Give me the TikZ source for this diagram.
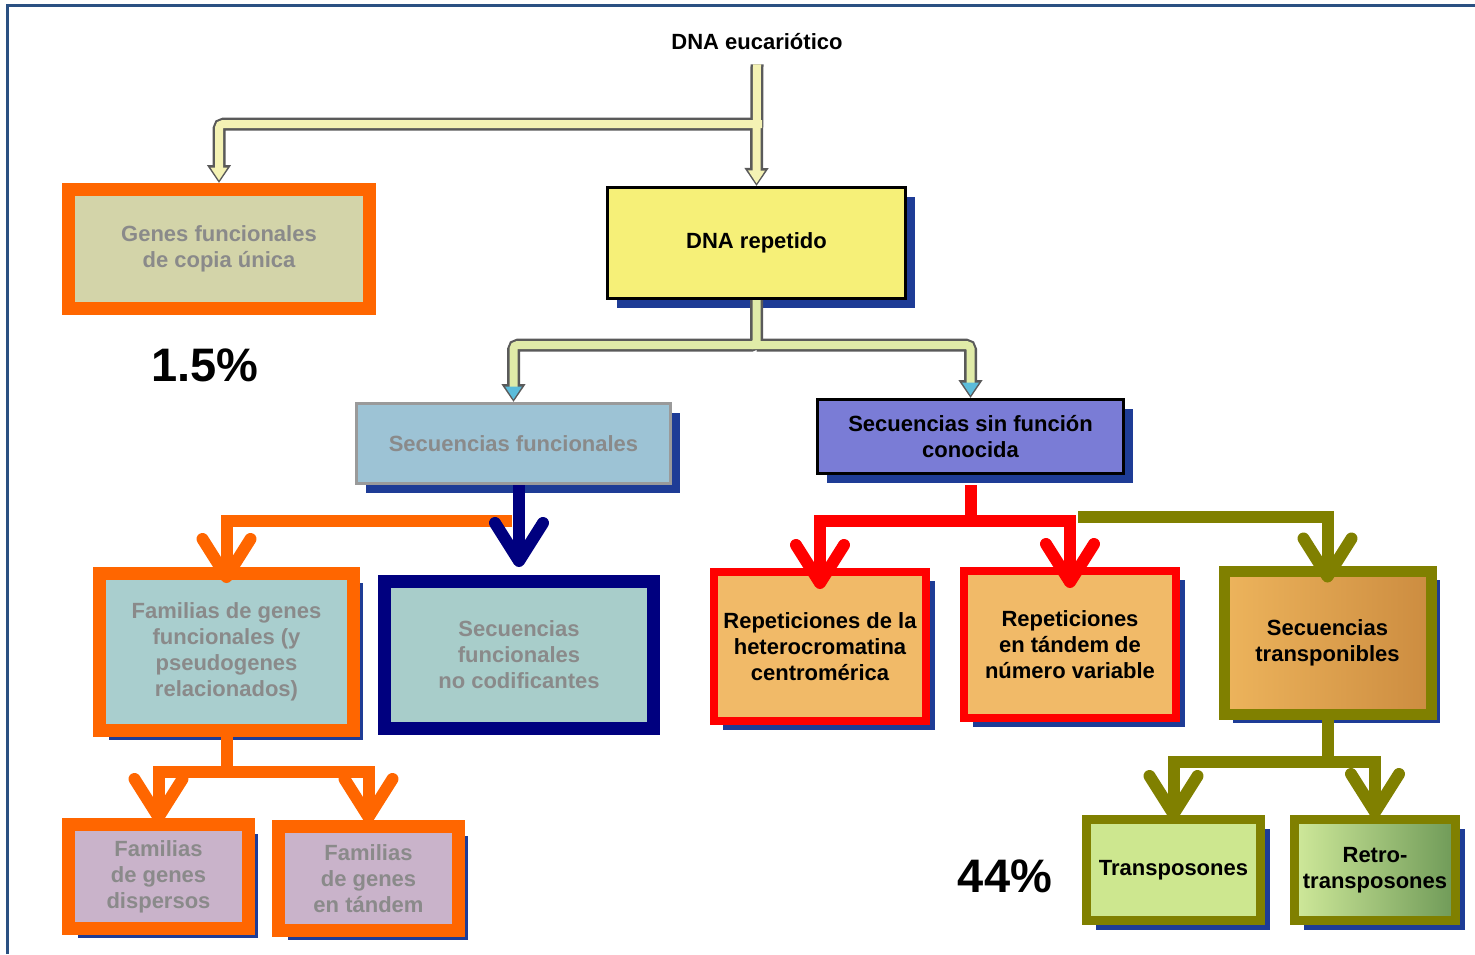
\documentclass[tikz,border=0pt]{standalone}
\usepackage{fontspec}
\setmainfont{Liberation Sans}
\usetikzlibrary{arrows.meta,shadows}
\definecolor{frameblue}{HTML}{2A5082}
\definecolor{orangeb}{HTML}{FF6600}
\definecolor{navyb}{HTML}{00007F}
\definecolor{redb}{HTML}{FF0000}
\definecolor{oliveb}{HTML}{808000}
\definecolor{genesfill}{HTML}{D3D4A9}
\definecolor{repfill}{HTML}{F6F078}
\definecolor{funcfill}{HTML}{9DC3D5}
\definecolor{boxgray}{HTML}{9A9A9A}
\definecolor{sinfill}{HTML}{7A7CD6}
\definecolor{famfill}{HTML}{A9CECE}
\definecolor{nocfill}{HTML}{A8CDCA}
\definecolor{tanfill}{HTML}{F1BA68}
\definecolor{transpleft}{HTML}{EDB45C}
\definecolor{transpright}{HTML}{CC8C40}
\definecolor{pinkfill}{HTML}{C9B3CA}
\definecolor{greenfill}{HTML}{CDE78F}
\definecolor{retroleft}{HTML}{CFE99A}
\definecolor{retroright}{HTML}{6F9A58}
\definecolor{shadowblue}{HTML}{1E3C96}
\definecolor{pipegray}{HTML}{5A5A5A}
\definecolor{pipeyellow}{HTML}{F4F2B4}
\definecolor{pipegreen}{HTML}{E0EBA8}
\definecolor{tipblue}{HTML}{5CBCDA}
\definecolor{textgray}{HTML}{8A8A8A}

\begin{document}
\begin{tikzpicture}[x=1pt, y=-1pt,
    box/.style={draw, line width=3pt, align=center, inner sep=0pt,
      font=\bfseries\fontsize{22}{26}\selectfont},
    blueshadow/.style={drop shadow={shadow xshift=9pt, shadow yshift=-9pt, fill=shadowblue, opacity=1}},
    pale/.style={text=textgray},
    pipe/.style={draw=pipegray, line width=13pt, rounded corners=5pt, -{Triangle[length=18pt, width=23pt]}},
    pipein/.style 2 args={draw=#1, line width=8pt, rounded corners=4pt, shorten >=2.5pt,
      -{Triangle[length=13pt, width=16pt, color=#2]}},
    link/.style={draw=#1, line width=12pt, -{Straight Barb[length=38pt, width=48pt, round]}},
    percent/.style={font=\bfseries\fontsize{47}{50}\selectfont}]
  \useasboundingbox (0,0) rectangle (1475,954);
  \draw[frameblue, line width=3pt] (7,954) -- (7,5) -- (1475,5);

  \node[font=\bfseries\fontsize{22}{26}\selectfont, inner sep=8pt] (eu) at (757,42) {DNA eucariótico};
  \node[box, draw=orangeb, line width=13pt, fill=genesfill, pale, minimum width=301, minimum height=119] (genes) at (219,249) {Genes funcionales\\de copia única};
  \node[box, fill=repfill, blueshadow, minimum width=298, minimum height=111] (repetido) at (756.5,243) {DNA repetido};
  \node[box, draw=boxgray, fill=funcfill, pale, blueshadow, minimum width=314, minimum height=80] (funcionales) at (513.5,443.5) {Secuencias funcionales};
  \node[box, fill=sinfill, blueshadow, minimum width=306, minimum height=74] (sinfuncion) at (970.5,436.5) {Secuencias sin función\\conocida};
  \node[box, draw=orangeb, line width=13pt, fill=famfill, pale, blueshadow, minimum width=254, minimum height=157] (familias) at (226.5,652) {Familias de genes\\funcionales (y\\pseudogenes\\relacionados)};
  \node[box, draw=navyb, line width=13pt, fill=nocfill, pale, minimum width=269, minimum height=147] (nocodif) at (519,655) {Secuencias\\funcionales\\no codificantes};
  \node[box, draw=redb, line width=8pt, fill=tanfill, blueshadow, minimum width=212, minimum height=149] (heterocrom) at (820,646.5) {Repeticiones de la\\heterocromatina\\centromérica};
  \node[box, draw=redb, line width=8pt, fill=tanfill, blueshadow, minimum width=212, minimum height=147] (vntr) at (1070,644.5) {Repeticiones\\en tándem de\\número variable};
  \node[box, draw=oliveb, line width=11pt, left color=transpleft, right color=transpright, blueshadow, minimum width=207, minimum height=143] (transp) at (1327.5,642.5) {Secuencias\\transponibles};
  \node[box, draw=orangeb, line width=13pt, fill=pinkfill, pale, blueshadow, minimum width=180, minimum height=104] (dispersos) at (158.5,876.5) {Familias\\de genes\\dispersos};
  \node[box, draw=orangeb, line width=13pt, fill=pinkfill, pale, blueshadow, minimum width=180, minimum height=104] (tandem) at (368.5,878.5) {Familias\\de genes\\en tándem};
  \node[box, draw=oliveb, line width=9pt, fill=greenfill, blueshadow, minimum width=174, minimum height=101] (transposones) at (1173.5,870) {Transposones};
  \node[box, draw=oliveb, line width=9pt, left color=retroleft, right color=retroright, blueshadow, minimum width=161, minimum height=101] (retro) at (1375,870) {Retro-\\transposones};
  \node[percent] (p15) at (205,365) {1.5\%};
  \node[percent] (p44) at (1005,876) {44\%};

  \coordinate (j1) at (757,124);
  \coordinate (j2) at (756.5,345);
  \draw[pipe] ([yshift=-6pt]eu.south) -- (repetido.north);
  \draw[pipe] (j1) -| (genes.north);
  \draw[pipein={pipeyellow}{pipeyellow}] ([yshift=-6pt]eu.south) -- (repetido.north);
  \draw[pipein={pipeyellow}{pipeyellow}, shorten <=-5pt] (j1) -| (genes.north);
  \draw[pipe] (repetido.south) -- (j2) -| (funcionales.north);
  \draw[pipe] (j2) -| (sinfuncion.north);
  \draw[pipein={pipegreen}{tipblue}] (repetido.south) -- (j2) -| (funcionales.north);
  \draw[pipein={pipegreen}{tipblue}, shorten <=-5pt] (j2) -| (sinfuncion.north);

  \coordinate (fbranch) at (512,521);
  \coordinate (famj) at (226.5,772);
  \coordinate (rj) at (970.5,521);
  \coordinate (tbranch) at (1078,517);
  \coordinate (tj) at (1327.5,762);
  \draw[link=orangeb] (fbranch) -| ([yshift=-16pt]familias.north);
  \draw[link=navyb] (funcionales.south -| nocodif.north) -- ([yshift=8pt]nocodif.north);
  \draw[link=orangeb] (familias.south) -- (famj) -| ([yshift=-5pt]dispersos.north);
  \draw[link=orangeb] (famj) -| ([yshift=-3pt]tandem.north);
  \draw[link=redb] ([yshift=-10pt]sinfuncion.south) -- (rj) -| ([yshift=-21pt]heterocrom.north);
  \draw[link=redb] (rj) -| ([yshift=-21pt]vntr.north);
  \draw[link=oliveb] (tbranch) -| ([yshift=-17pt]transp.north);
  \draw[link=oliveb] (transp.south) -- (tj) -| ([yshift=-5pt]transposones.north);
  \draw[link=oliveb] (tj) -| ([yshift=-3pt]retro.north);
\end{tikzpicture}
\end{document}
